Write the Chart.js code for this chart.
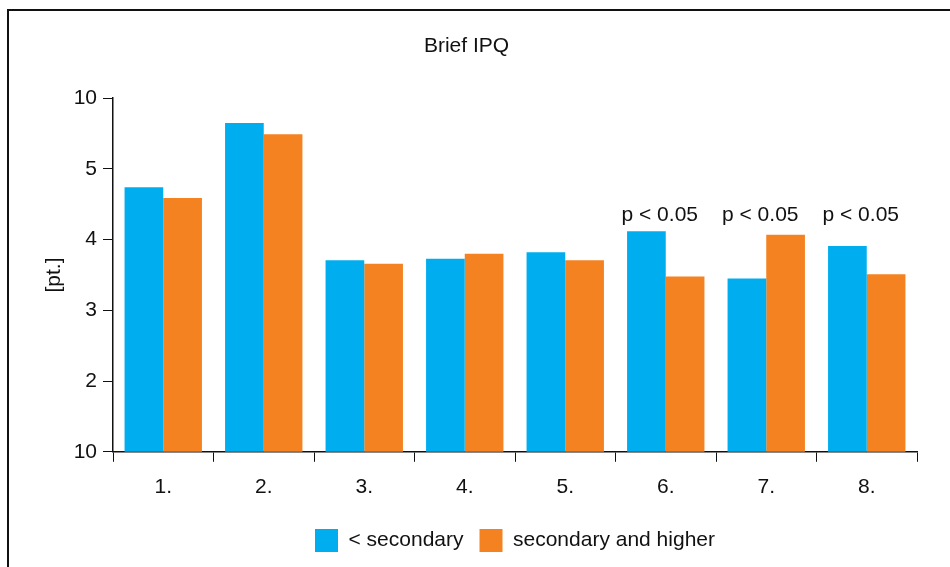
<!DOCTYPE html>
<html>
<head>
<meta charset="utf-8">
<script src="https://cdn.jsdelivr.net/npm/chart.js@4.4.1/dist/chart.umd.min.js"></script>
<style>
  html, body { margin: 0; padding: 0; background: #fff; overflow: hidden; }
  #wrap { position: relative; width: 950px; height: 567px; }
  #frame { position: absolute; left: 7px; top: 9px; width: 1000px; height: 600px;
           border-top: 2px solid #111; border-left: 2px solid #111; }
  canvas { position: absolute; left: 0; top: 0; }
</style>
</head>
<body>
<div id="wrap">
  <div id="frame"></div>
  <canvas id="c" width="950" height="567"></canvas>
</div>
<script>
const categories = ["1.", "2.", "3.", "4.", "5.", "6.", "7.", "8."];
const seriesNames = ["< secondary", "secondary and higher"];
const lowerSecondary = [4.74, 5.65, 3.71, 3.73, 3.82, 4.12, 3.45, 3.91];
const secondaryHigher = [4.59, 5.49, 3.66, 3.80, 3.71, 3.48, 4.07, 3.51];
const pLabels = ["", "", "", "", "", "p < 0.05", "p < 0.05", "p < 0.05"];
const yTickValues = [1, 2, 3, 4, 5, 6];
const yTickLabels = ["10", "2", "3", "4", "5", "10"];

const FONT = "'Liberation Sans', Arial, Helvetica, sans-serif";
const TXT = '#111';

const pLabelPlugin = {
  id: 'pLabels',
  afterDatasetsDraw(chart) {
    const ctx = chart.ctx;
    const xs = chart.scales.x, ys = chart.scales.y;
    ctx.save();
    ctx.font = '21px ' + FONT;
    ctx.fillStyle = TXT;
    ctx.textAlign = 'center';
    ctx.textBaseline = 'middle';
    const yPix = ys.getPixelForValue(4.35);
    pLabels.forEach((t, i) => {
      if (!t) return;
      ctx.fillText(t, xs.getPixelForValue(i) - 6, yPix);
    });
    ctx.restore();
  }
};

new Chart(document.getElementById('c'), {
  type: 'bar',
  data: {
    labels: categories,
    datasets: [
      { label: seriesNames[0], data: lowerSecondary, backgroundColor: '#00AEEF' },
      { label: seriesNames[1], data: secondaryHigher, backgroundColor: '#F58220' }
    ]
  },
  options: {
    responsive: false,
    animation: false,
    devicePixelRatio: 1,
    layout: { padding: { left: 16, right: 33, top: 0, bottom: 5 } },
    datasets: { bar: { categoryPercentage: 0.77, barPercentage: 1.0 } },
    plugins: {
      title: {
        display: true, text: 'Brief IPQ', color: TXT,
        font: { family: FONT, size: 21, weight: 'normal' },
        padding: { top: 34, bottom: 39 }
      },
      legend: {
        position: 'bottom',
        fullSize: false,
        labels: {
          color: TXT, boxWidth: 23, boxHeight: 23, padding: 16,
          font: { family: FONT, size: 21 }
        }
      },
      tooltip: { enabled: false }
    },
    scales: {
      x: {
        grid: { display: true, drawOnChartArea: false, drawTicks: true, tickLength: 10, color: '#111', offset: true },
        border: { color: '#111', width: 1.5 },
        ticks: { color: TXT, padding: 13, font: { family: FONT, size: 21 } }
      },
      y: {
        min: 1, max: 6,
        afterFit(scale) { scale.width = 97; },
        afterBuildTicks(scale) { scale.ticks = yTickValues.map(v => ({ value: v })); },
        grid: { display: true, drawOnChartArea: false, drawTicks: true, tickLength: 10, color: '#111' },
        border: { color: '#111', width: 1.5 },
        ticks: {
          color: TXT, padding: 6, font: { family: FONT, size: 21 },
          callback(v) { const k = yTickValues.indexOf(v); return k >= 0 ? yTickLabels[k] : ''; }
        },
        title: {
          display: true, text: '[pt.]', color: TXT,
          font: { family: FONT, size: 21 }, padding: { top: 26, bottom: 0 }
        }
      }
    }
  },
  plugins: [pLabelPlugin]
});
</script>
</body>
</html>
